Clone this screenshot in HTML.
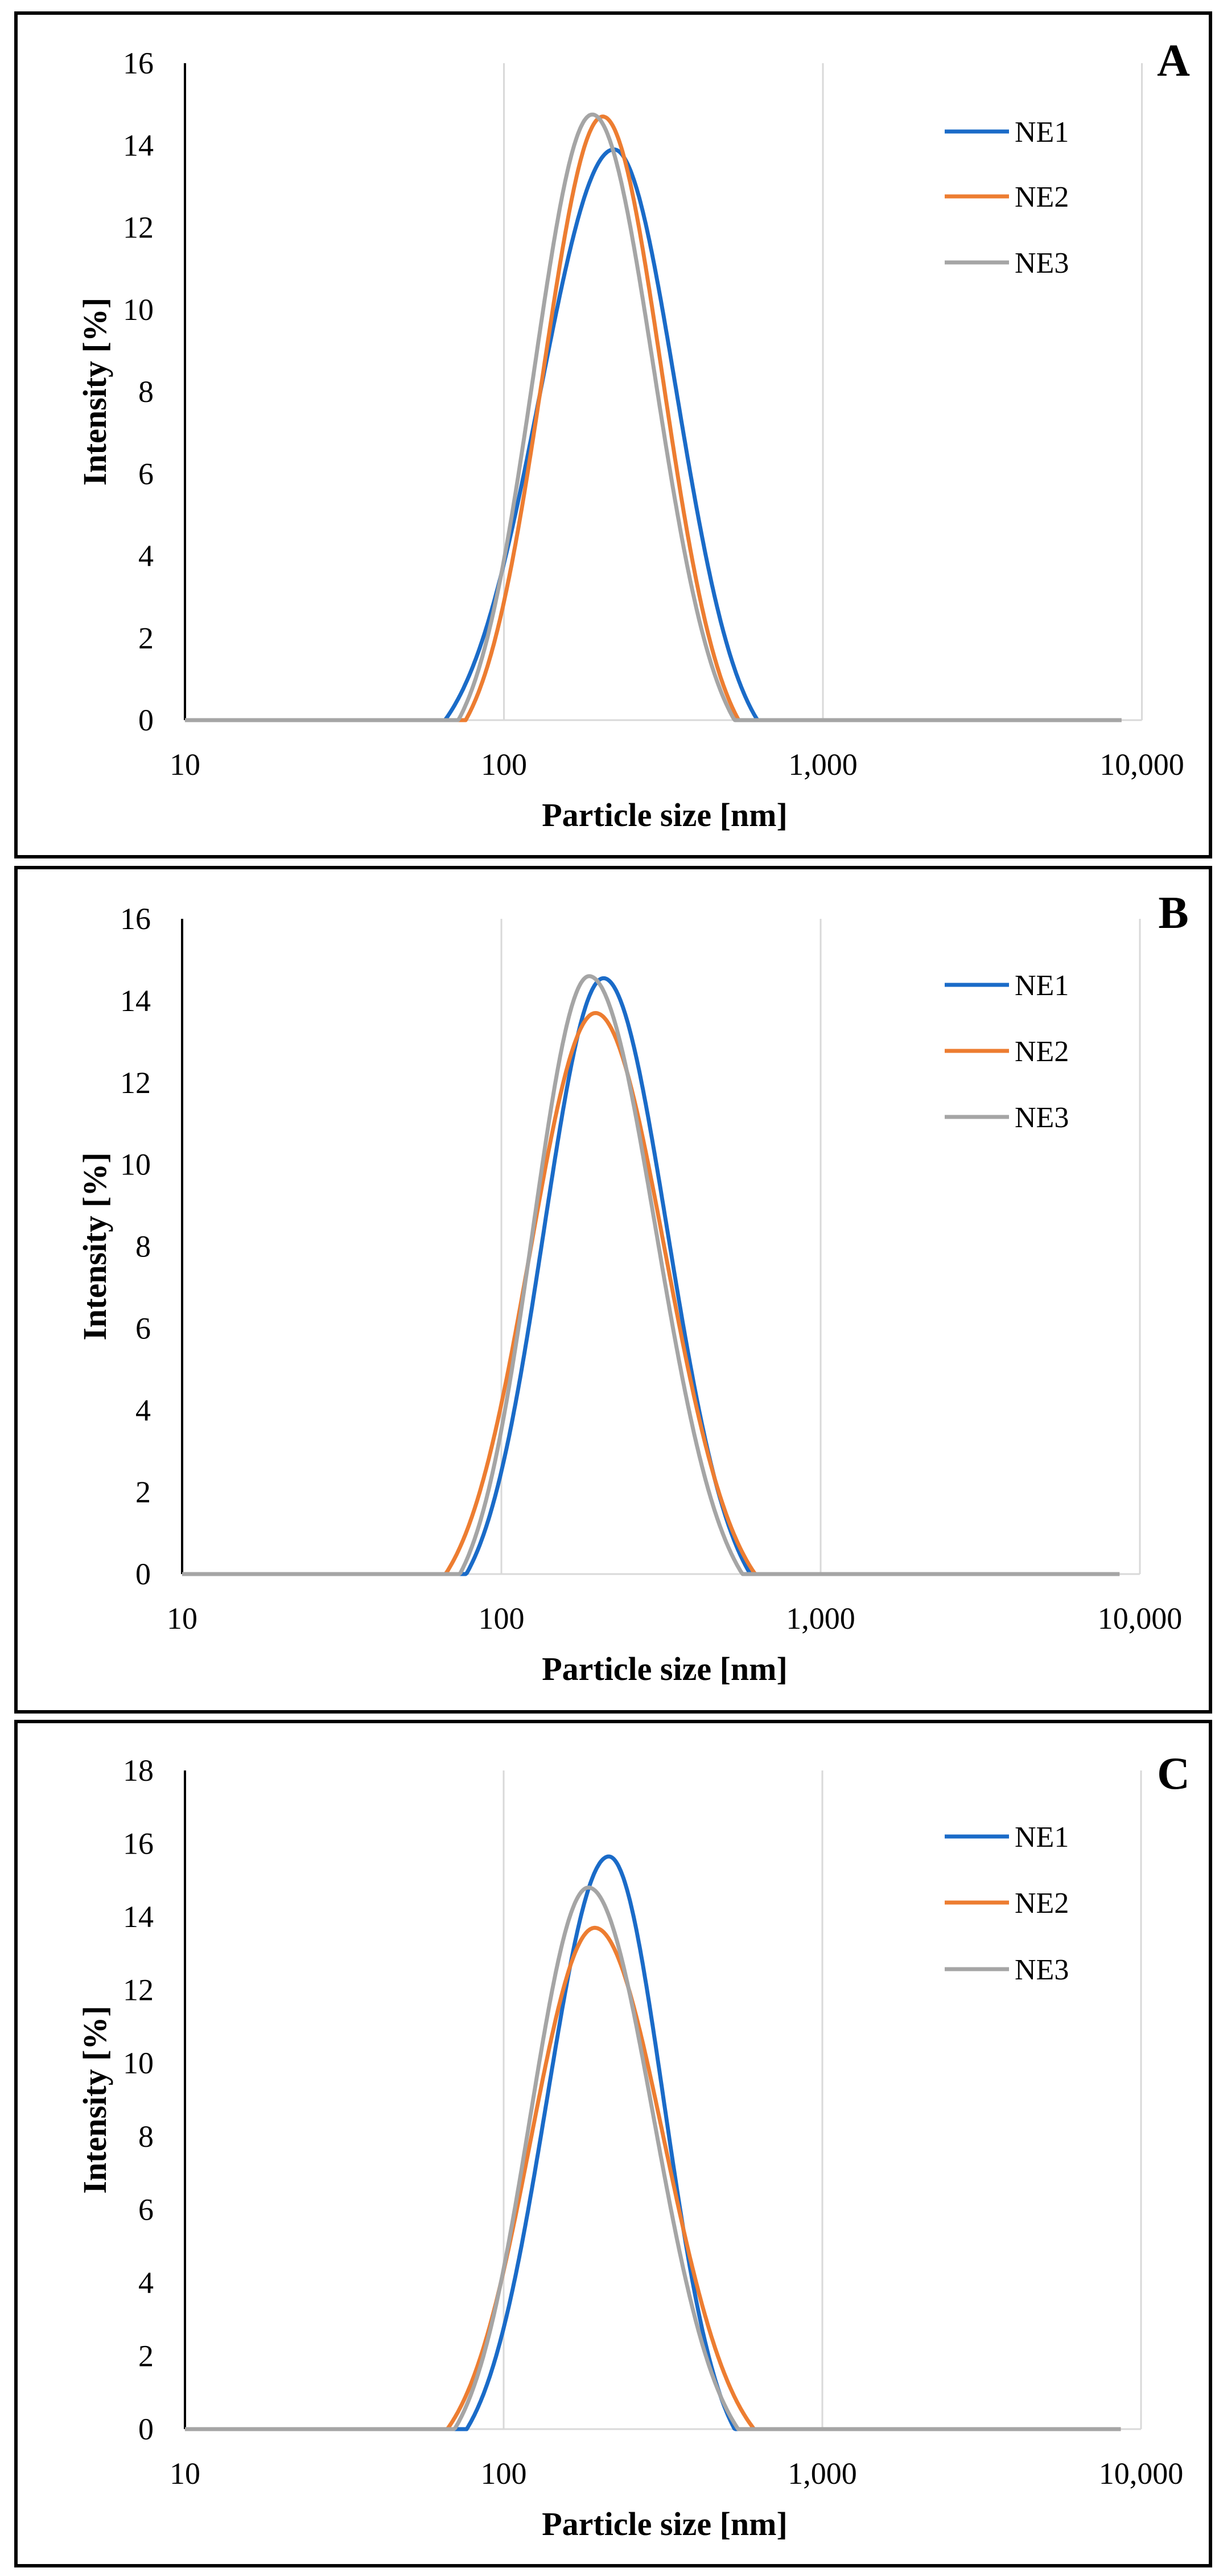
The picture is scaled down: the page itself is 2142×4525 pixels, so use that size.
<!DOCTYPE html>
<html><head><meta charset="utf-8"><style>
html,body{margin:0;padding:0;background:#fff;}
svg{display:block;}
text{font-family:"Liberation Serif",serif;fill:#000;}
</style></head><body>
<svg id="s" width="2142" height="4525" viewBox="0 0 2142 4525" xmlns="http://www.w3.org/2000/svg">
<rect width="2142" height="4525" fill="#fff"/>
<g id="g"></g>
</svg>
<script>
var NS="http://www.w3.org/2000/svg",G=document.getElementById("g");
function el(t,a,txt){var e=document.createElementNS(NS,t);for(var k in a)e.setAttribute(k,a[k]);if(txt!==undefined)e.textContent=txt;G.appendChild(e);return e;}
var cols=["#1A6BC8","#ED7D31","#A5A5A5"];
var panels=[
 {ft:23,fb:1505,ax:325,dec:560.5,zero:1265,top:111,ymax:16,L:"A",Ly:133,leg:[231,345,461],
  s:[[2.345,13.9,.53,.45],[2.31,14.7,.43,.426],[2.277,14.75,.42,.446]]},
 {ft:1524,fb:3007,ax:320,dec:561,zero:2765,top:1614,ymax:16,L:"B",Ly:1630,leg:[1730,1846,1962],
  s:[[2.32,14.55,.43,.46],[2.295,13.7,.47,.5],[2.275,14.6,.405,.48]]},
 {ft:3024,fb:4507,ax:325,dec:560,zero:4267,top:3110,ymax:18,L:"C",Ly:3142,leg:[3226,3342,3459],
  s:[[2.33,15.65,.446,.395],[2.286,13.7,.463,.5],[2.266,14.8,.42,.47]]}
];
panels.forEach(function(p){
 el("rect",{x:28,y:p.ft,width:2099,height:p.fb-p.ft,fill:"none",stroke:"#000","stroke-width":6});
 var X=function(l){return p.ax+(l-1)*p.dec;};
 var pu=(p.zero-p.top)/p.ymax;
 var Y=function(v){return p.zero-v*pu;};
 [2,3,4].forEach(function(l){el("line",{x1:X(l),x2:X(l),y1:p.top,y2:p.zero,stroke:"#D9D9D9","stroke-width":3});});
 el("line",{x1:p.ax,x2:X(4),y1:p.zero,y2:p.zero,stroke:"#D9D9D9","stroke-width":3});
 el("line",{x1:p.ax,x2:p.ax,y1:p.top,y2:p.zero,stroke:"#000","stroke-width":4});
 for(var v=0;v<=p.ymax;v+=2){el("text",{x:p.ax-55,y:Y(v)+18,"text-anchor":"end","font-size":54},""+v);}
 ["10","100","1,000","10,000"].forEach(function(t,i){el("text",{x:X(i+1),y:p.zero+96,"text-anchor":"middle","font-size":54},t);});
 el("text",{x:1168,y:p.zero+186,"text-anchor":"middle","font-size":58,"font-weight":"bold"},"Particle size [nm]");
 var cy=(p.top+p.zero)/2;
 el("text",{x:0,y:0,"text-anchor":"middle","font-size":58,"font-weight":"bold",transform:"translate(186,"+cy+") rotate(-90)"},"Intensity [%]");
 el("text",{x:2062,y:p.Ly,"text-anchor":"middle","font-size":80,"font-weight":"bold"},p.L);
 p.s.forEach(function(s,i){
  var d="";
  for(var l=1;l<=3.94;l+=0.004){
   var dd=l-s[0],D=dd<0?s[2]:s[3],sg=D/2.3,v=0;
   if(Math.abs(dd)<D){var e0=Math.exp(-D*D/(2*sg*sg));v=s[1]*(Math.exp(-dd*dd/(2*sg*sg))-e0)/(1-e0);}
   d+=(d?"L":"M")+X(l).toFixed(1)+" "+Y(v).toFixed(1);
  }
  el("path",{d:d,fill:"none",stroke:cols[i],"stroke-width":7,"stroke-linejoin":"round"});
  var ly=p.leg[i];
  el("line",{x1:1660,x2:1773,y1:ly,y2:ly,stroke:cols[i],"stroke-width":7});
  el("text",{x:1783,y:ly+18,"font-size":52},"NE"+(i+1));
 });
});
</script>
</body></html>
